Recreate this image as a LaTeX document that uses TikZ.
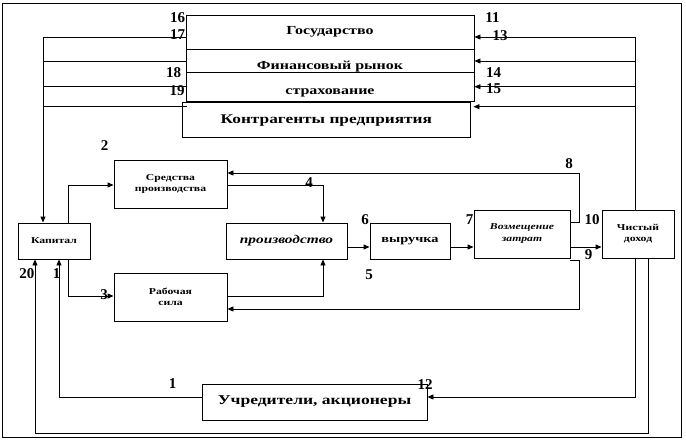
\documentclass[tikz,border=0pt]{standalone}
\usepackage{fontspec}
\setmainfont{Liberation Serif}
\newfontfamily\wideserif[FakeStretch=1.3]{Liberation Serif}
\usetikzlibrary{arrows.meta}
\tikzset{
  ln/.style={line width=0.9pt},
  arr/.style={ln,-{Triangle[length=6pt,width=5pt]}},
  box/.style={draw,line width=0.9pt,inner sep=0pt,align=center,font=\wideserif\bfseries\fontsize{12.3}{13}\selectfont},
  lowtext/.style={text height=16pt,text depth=0pt},
  sbox/.style={box,font=\wideserif\bfseries\fontsize{9}{11}\selectfont},
  num/.style={inner sep=0pt,font=\bfseries\fontsize{15}{15}\selectfont}
}
\begin{document}
\begin{tikzpicture}[x=1pt,y=-1pt]
\useasboundingbox (0,0) rectangle (686,440);
\draw[line width=0.9pt] (2,3) rectangle (681,437);
% top stack
\node[box,minimum width=288pt,minimum height=34pt] (gos) at (330,32) {Государство};
\node[box,lowtext,minimum width=288pt,minimum height=23.7pt] (fin) at (330,61) {Финансовый рынок};
\node[box,lowtext,minimum width=288pt,minimum height=28.3pt] (str) at (330,86.85) {страхование};
\node[box,minimum width=287.3pt,minimum height=35pt,font=\wideserif\bfseries\fontsize{13.3}{14}\selectfont] (kon) at (326.35,120.2) {Контрагенты предприятия};
% middle
\node[sbox,minimum width=72pt,minimum height=36pt] (kap) at (54,241) {Капитал};
\node[sbox,minimum width=113pt,minimum height=48pt] (sre) at (170.5,184) {Средства\\производства};
\node[sbox,minimum width=113pt,minimum height=48pt] (rab) at (170.5,297) {Рабочая\\сила};
\node[box,minimum width=121pt,minimum height=36pt,font=\wideserif\bfseries\itshape\fontsize{11.8}{12}\selectfont] (pro) at (286.5,241) {производство};
\node[box,minimum width=80pt,minimum height=36pt,font=\wideserif\bfseries\fontsize{11}{12}\selectfont] (vyr) at (410,241) {выручка};
\node[sbox,minimum width=96pt,minimum height=48pt,font=\wideserif\bfseries\itshape\fontsize{9}{12}\selectfont] (voz) at (522,234) {Возмещение\\затрат};
\node[sbox,minimum width=72pt,minimum height=48pt] (chi) at (638,234) {Чистый\\доход};
\node[box,minimum width=225pt,minimum height=36pt,font=\wideserif\bfseries\fontsize{13.5}{14}\selectfont] (uch) at (314.5,402) {Учредители, акционеры};
% left lines
\coordinate (lt) at (43,37);
\draw[ln] (gos.west |- lt) -- (lt);
\draw[arr] (lt) -- (lt |- kap.north);
\coordinate (l2) at (43,61);
\draw[ln] (l2) -- (fin.west |- l2);
\coordinate (l3) at (43,86.7);
\draw[ln] (l3) -- (str.west |- l3);
\coordinate (l4) at (43,106.7);
\draw[ln] (l4) -- ([xshift=5pt]kon.west |- l4);
% right lines
\coordinate (rt) at (635,37);
\draw[ln] (chi.north -| rt) -- (rt);
\draw[arr] (rt) -- (gos.east |- rt);
\coordinate (r2) at (635,61);
\draw[arr] (r2) -- (fin.east |- r2);
\coordinate (r3) at (635,86.7);
\draw[arr] (r3) -- (str.east |- r3);
\coordinate (r4) at (635,106.7);
\draw[arr] (r4) -- ([xshift=3pt]kon.east |- r4);
% bottom loops
\coordinate (b1) at (635,397);
\draw[arr] (chi.south -| b1) -- (b1) -- (uch.east |- b1);
\coordinate (b2) at (648,433);
\coordinate (b3) at (35,433);
\draw[arr] (chi.south -| b2) -- (b2) -- (b3) -- (b3 |- kap.south);
\coordinate (b4) at (59,397);
\draw[arr] (uch.west |- b4) -- (b4) -- (b4 |- kap.south);
% capital to resources
\coordinate (k1) at (68,185);
\draw[arr] (kap.north -| k1) -- (k1) -- (sre.west |- k1);
\coordinate (k2) at (68,296);
\draw[arr] (kap.south -| k2) -- (k2) -- (rab.west |- k2);
\coordinate (p1) at (323,185);
\draw[arr] (sre.east |- p1) -- (p1) -- (p1 |- pro.north);
\coordinate (p2) at (323,296);
\draw[arr] (rab.east |- p2) -- (p2) -- (p2 |- pro.south);
% main chain
\coordinate (m) at (0,247);
\draw[arr] (pro.east |- m) -- (vyr.west |- m);
\draw[arr] (vyr.east |- m) -- (voz.west |- m);
\draw[arr] (voz.east |- m) -- (chi.west |- m);
% feedback
\coordinate (f1) at (579,222);
\coordinate (f2) at (579,173);
\draw[arr] (voz.east |- f1) -- (f1) -- (f2) -- (sre.east |- f2);
\coordinate (g1) at (579,260);
\coordinate (g2) at (579,309);
\draw[arr] (voz.east |- g1) -- (g1) -- (g2) -- (rab.east |- g2);
% numbers
\node[num] (n16) at (177.5,18) {16};
\node[num] (n17) at (177.5,35) {17};
\node[num] (n18) at (173.5,72.5) {18};
\node[num] (n19) at (177,90.5) {19};
\node[num] (n11) at (492.5,18) {11};
\node[num] (n13) at (500,35.5) {13};
\node[num] (n14) at (493.5,72.5) {14};
\node[num] (n15) at (493.5,89) {15};
\node[num] (n2) at (104.5,146) {2};
\node[num] (n3) at (104,295) {3};
\node[num] (n20) at (27,274) {20};
\node[num] (n1a) at (56.5,274) {1};
\node[num] (n4) at (309,183) {4};
\node[num] (n6) at (365,220) {6};
\node[num] (n5) at (369,275) {5};
\node[num] (n7) at (469.5,220) {7};
\node[num] (n8) at (569,164) {8};
\node[num] (n10) at (592,220) {10};
\node[num] (n9) at (588.5,255) {9};
\node[num] (n1b) at (172.5,383.5) {1};
\node[num] (n12) at (425,385) {12};
\end{tikzpicture}
\end{document}
